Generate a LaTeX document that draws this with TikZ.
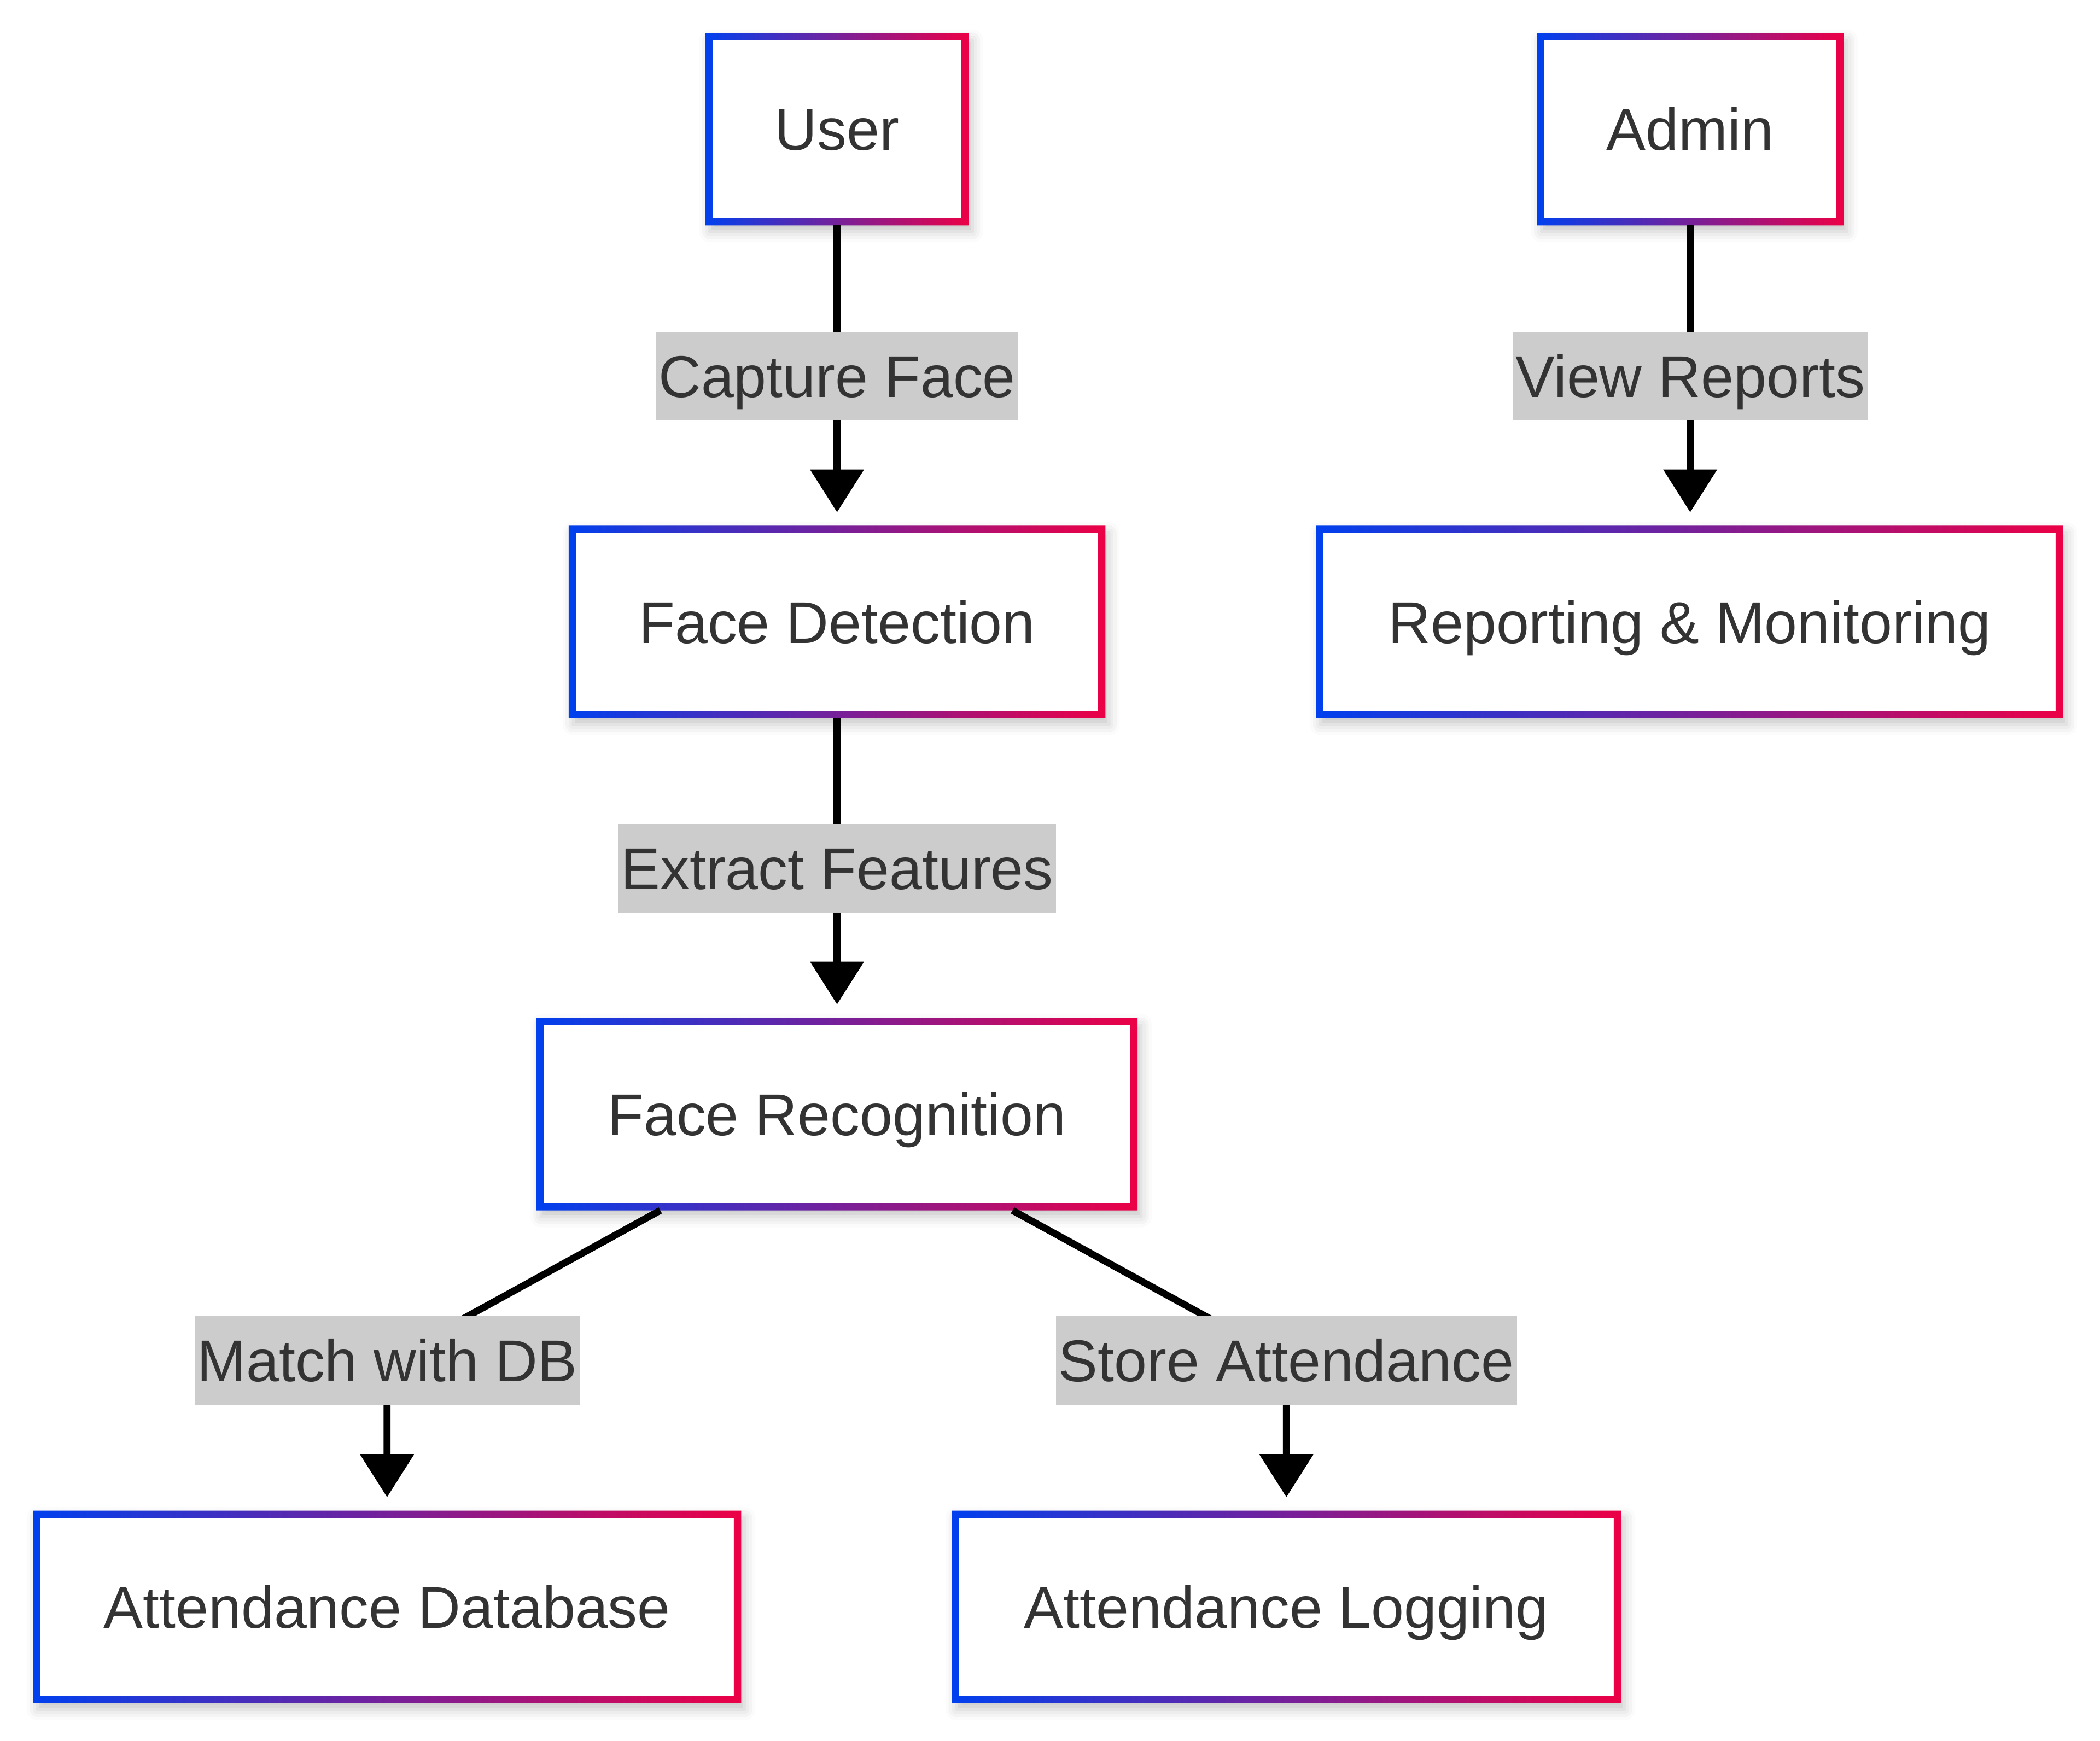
\documentclass[tikz,border=0pt]{standalone}
\usepackage{fontspec}
\setmainfont{Liberation Sans}
\usetikzlibrary{arrows.meta,calc,shadows.blur}
\definecolor{gblue}{RGB}{0,64,238}
\definecolor{gred}{RGB}{236,0,70}
\definecolor{txt}{HTML}{333333}
\definecolor{lblgray}{HTML}{CCCCCC}
\tikzset{
  box/.style={rectangle, fill=white, inner sep=0pt, minimum height=71.5pt, text=txt,
    font=\fontsize{22}{26}\selectfont, text height=15.75pt, text depth=0pt,
    blur shadow={shadow xshift=1.5pt, shadow yshift=-2.5pt, shadow blur radius=4pt, shadow opacity=22}},
  lbl/.style={rectangle, fill=lblgray, inner xsep=1pt, inner ysep=0pt, minimum height=33pt, text=txt,
    font=\fontsize{22}{26}\selectfont, text height=15.75pt, text depth=0pt},
  edge/.style={line width=2.6pt, draw=black, -{Triangle[width=19.5pt,length=16pt]}, shorten >=5pt},
}
\newcommand\gring[1]{\shade[left color=gblue, right color=gred, even odd rule]
  (#1.south west) rectangle (#1.north east)
  ($(#1.south west)+(2.75pt,2.75pt)$) rectangle ($(#1.north east)+(-2.75pt,-2.75pt)$);}
\begin{document}
\begin{tikzpicture}[x=0.5pt,y=-0.5pt]
\useasboundingbox (0,0) rectangle (1568,1300);
% boxes
\node[box, minimum width=98pt] (user) at (625,96.5) {User};
\node[box, minimum width=114pt] (admin) at (1262,96.5) {Admin};
\node[box, minimum width=200pt] (fd) at (625,464.5) {Face Detection};
\node[box, minimum width=278.5pt] (rm) at (1261.5,464.5) {Reporting \& Monitoring};
\node[box, minimum width=224pt] (fr) at (625,832) {Face Recognition};
\node[box, minimum width=264pt] (ad) at (289,1200) {Attendance Database};
\node[box, minimum width=249.5pt] (al) at (960.5,1200) {Attendance Logging};
\foreach \n in {user,admin,fd,rm,fr,ad,al} {\gring{\n}}
% label anchor points
\coordinate (cc) at (625,281);
\coordinate (vc) at (1262,281);
\coordinate (ec) at (625,648.5);
\coordinate (mc) at (289,1016);
\coordinate (sc) at (960.5,1016);
% edges
\draw[edge] (user.south) -- (fd.north);
\draw[edge] (admin.south) -- (admin.south |- rm.north);
\draw[edge] (fd.south) -- (fr.north);
\draw[edge] ($(fr.south)+(-66pt,0)$) -- (mc) -- (ad.north);
\draw[edge] ($(fr.south)+(65.5pt,0)$) -- (sc) -- (al.north);
% labels
\node[lbl] (lcap) at (cc) {Capture Face};
\node[lbl] (lview) at (vc) {View Reports};
\node[lbl] (lext) at (ec) {Extract Features};
\node[lbl] (lmatch) at (mc) {Match with DB};
\node[lbl] (lstore) at (sc) {Store Attendance};
\end{tikzpicture}
\end{document}
